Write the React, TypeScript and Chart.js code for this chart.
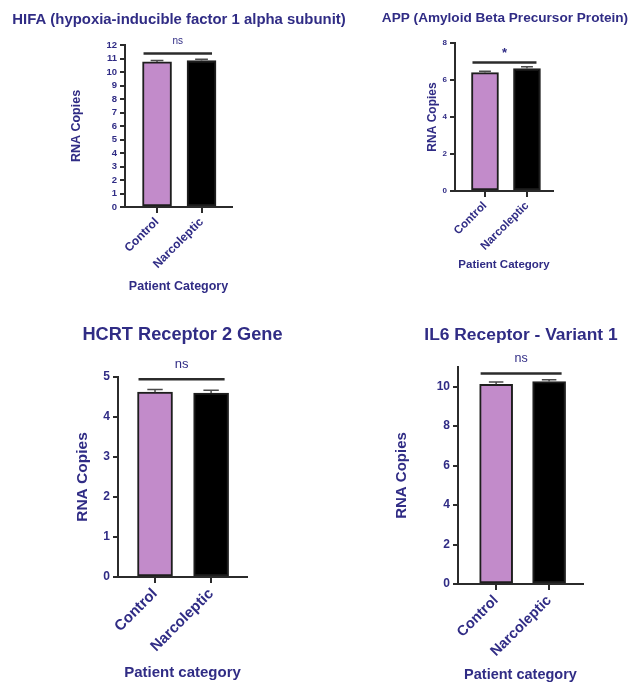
import React, { useEffect, useRef } from 'react';
import { Chart, registerables } from 'chart.js';

Chart.register(...registerables);

// ---------- data ----------
const categories = ['Control', 'Narcoleptic'];
const barColors = ['#c28bca', '#000000'];

const hifaValues = [10.75, 10.85];
const hifaErrors = [0.1, 0.1];

const appValues = [6.4, 6.62];
const appErrors = [0.07, 0.1];

const hcrtValues = [4.62, 4.6];
const hcrtErrors = [0.07, 0.07];

const il6Values = [10.12, 10.26];
const il6Errors = [0.12, 0.1];

const TEXT = '#302c85';
const AXIS = '#2b2b2b';
const FONT = '"Liberation Sans", Arial, Helvetica, sans-serif';

type Panel = {
  key: string;
  title: string;
  yTitle: string;
  xTitle: string;
  values: number[];
  errors: number[];
  sig: string;
  sigBold: boolean;
  canvas: { left: number; top: number; width: number; height: number };
  area: { left: number; right: number; top: number; bottom: number };
  yMax: number;
  yStep: number;
  xMin: number;
  xMax: number;
  barWidth: number;
  titlePos: { x: number; y: number };
  yTitleX: number;
  xTitleY: number;
  sigOffset: number;
  sigTextGap: number;
  fonts: { title: number; yTick: number; xTick: number; yTitle: number; xTitle: number; sig: number };
};

const panels: Panel[] = [
  {
    key: 'hifa',
    title: 'HIFA (hypoxia-inducible factor 1 alpha subunit)',
    yTitle: 'RNA Copies',
    xTitle: 'Patient Category',
    values: hifaValues,
    errors: hifaErrors,
    sig: 'ns',
    sigBold: false,
    canvas: { left: 0, top: 0, width: 380, height: 300 },
    area: { left: 125, right: 232, top: 45, bottom: 207 },
    yMax: 12,
    yStep: 1,
    xMin: -0.72,
    xMax: 1.685,
    barWidth: 29,
    titlePos: { x: 179, y: 20 },
    yTitleX: 77,
    xTitleY: 287,
    sigOffset: 7,
    sigTextGap: 12,
    fonts: { title: 14.9, yTick: 9.5, xTick: 12, yTitle: 12.5, xTitle: 12.5, sig: 10 },
  },
  {
    key: 'app',
    title: 'APP (Amyloid Beta Precursor Protein)',
    yTitle: 'RNA Copies',
    xTitle: 'Patient Category',
    values: appValues,
    errors: appErrors,
    sig: '*',
    sigBold: true,
    canvas: { left: 380, top: 0, width: 249, height: 300 },
    area: { left: 455, right: 553, top: 43, bottom: 191 },
    yMax: 8,
    yStep: 2,
    xMin: -0.714,
    xMax: 1.62,
    barWidth: 27,
    titlePos: { x: 505, y: 18 },
    yTitleX: 433,
    xTitleY: 265,
    sigOffset: 6,
    sigTextGap: 9,
    fonts: { title: 13.6, yTick: 8, xTick: 11.5, yTitle: 12, xTitle: 11.5, sig: 13 },
  },
  {
    key: 'hcrt',
    title: 'HCRT Receptor 2 Gene',
    yTitle: 'RNA Copies',
    xTitle: 'Patient category',
    values: hcrtValues,
    errors: hcrtErrors,
    sig: 'ns',
    sigBold: false,
    canvas: { left: 0, top: 300, width: 370, height: 384 },
    area: { left: 118, right: 247, top: 377, bottom: 577 },
    yMax: 5,
    yStep: 1,
    xMin: -0.66,
    xMax: 1.64,
    barWidth: 35,
    titlePos: { x: 182.5, y: 335 },
    yTitleX: 83,
    xTitleY: 673,
    sigOffset: 13,
    sigTextGap: 15,
    fonts: { title: 18.2, yTick: 12, xTick: 15, yTitle: 15.5, xTitle: 15, sig: 13 },
  },
  {
    key: 'il6',
    title: 'IL6 Receptor - Variant 1',
    yTitle: 'RNA Copies',
    xTitle: 'Patient category',
    values: il6Values,
    errors: il6Errors,
    sig: 'ns',
    sigBold: false,
    canvas: { left: 370, top: 300, width: 259, height: 384 },
    area: { left: 458, right: 583, top: 367, bottom: 584 },
    yMax: 11,
    yStep: 2,
    xMin: -0.72,
    xMax: 1.64,
    barWidth: 33,
    titlePos: { x: 521, y: 335 },
    yTitleX: 402,
    xTitleY: 675,
    sigOffset: 8,
    sigTextGap: 15,
    fonts: { title: 17.4, yTick: 12, xTick: 14.5, yTitle: 15, xTitle: 14.5, sig: 12.5 },
  },
];

function makeDeco(p: Panel) {
  return {
    id: 'deco',
    afterDatasetsDraw(chart: any) {
      const ctx = chart.ctx as CanvasRenderingContext2D;
      const meta = chart.getDatasetMeta(0);
      const y = chart.scales.y;
      ctx.save();
      // error bars (upper half)
      ctx.strokeStyle = '#4a4a4a';
      ctx.lineWidth = 1.5;
      meta.data.forEach((bar: any, i: number) => {
        const base = y.getPixelForValue(p.values[i]);
        const top = y.getPixelForValue(p.values[i] + p.errors[i]);
        const half = bar.width * 0.22;
        ctx.beginPath();
        ctx.moveTo(bar.x, base);
        ctx.lineTo(bar.x, top);
        ctx.moveTo(bar.x - half, top);
        ctx.lineTo(bar.x + half, top);
        ctx.stroke();
      });
      // significance bracket
      const barTop = Math.min(...meta.data.map((b: any) => b.y));
      const lineY = barTop - p.sigOffset;
      const b0 = meta.data[0];
      const b1 = meta.data[meta.data.length - 1];
      const x0 = b0.x - b0.width / 2 + 1;
      const x1 = b1.x + b1.width / 2 - 4;
      ctx.strokeStyle = AXIS;
      ctx.lineWidth = 2.5;
      ctx.beginPath();
      ctx.moveTo(x0, lineY);
      ctx.lineTo(x1, lineY);
      ctx.stroke();
      ctx.fillStyle = TEXT;
      ctx.textAlign = 'center';
      ctx.textBaseline = 'middle';
      ctx.font = `${p.sigBold ? 'bold ' : ''}${p.fonts.sig}px ${FONT}`;
      ctx.fillText(p.sig, (x0 + x1) / 2, lineY - p.sigTextGap);
      // chart title
      ctx.font = `bold ${p.fonts.title}px ${FONT}`;
      ctx.fillText(p.title, p.titlePos.x - p.canvas.left, p.titlePos.y - p.canvas.top);
      ctx.restore();
    },
  };
}

function BarPanel({ p }: { p: Panel }) {
  const ref = useRef<HTMLCanvasElement | null>(null);
  useEffect(() => {
    if (!ref.current) return;
    const c = p.canvas;
    const L = p.area.left - c.left;
    const R = p.area.right - c.left;
    const T = p.area.top - c.top;
    const B = p.area.bottom - c.top;
    const yLh = p.fonts.yTitle * 1.2;
    const padLeft = p.yTitleX - c.left - yLh / 2;
    const yWidth = L - padLeft;
    const xLh = p.fonts.xTitle * 1.2;
    const xHeight = p.xTitleY - c.top + xLh / 2 - B;
    const padBottom = Math.max(0, c.height - B - xHeight);

    const chart = new Chart(ref.current, {
      type: 'bar',
      data: {
        datasets: [
          {
            data: categories.map((_, i) => ({ x: i, y: p.values[i] })),
            backgroundColor: barColors,
            borderColor: '#1e1e1e',
            borderWidth: 2,
            borderSkipped: false,
            barThickness: p.barWidth,
          } as any,
        ],
      },
      options: {
        animation: false,
        responsive: false,
        maintainAspectRatio: false,
        devicePixelRatio: 1,
        layout: { padding: { left: padLeft, right: c.width - R, top: T, bottom: padBottom } },
        plugins: { legend: { display: false }, tooltip: { enabled: false }, title: { display: false } },
        scales: {
          x: {
            type: 'linear',
            min: p.xMin,
            max: p.xMax,
            offset: false,
            grid: {
              offset: false,
              drawOnChartArea: false,
              drawTicks: true,
              tickLength: 6,
              color: AXIS,
              lineWidth: 2,
            },
            border: { color: AXIS, width: 2 },
            ticks: {
              stepSize: 1,
              includeBounds: false,
              autoSkip: false,
              minRotation: 45,
              maxRotation: 45,
              padding: 2,
              color: TEXT,
              font: { family: FONT, size: p.fonts.xTick, weight: 'bold' },
              callback: (v: any) => (categories[v as number] ?? ''),
            },
            title: {
              display: true,
              text: p.xTitle,
              color: TEXT,
              padding: 0,
              font: { family: FONT, size: p.fonts.xTitle, weight: 'bold' },
            },
            afterFit: (s: any) => {
              s.height = xHeight;
            },
          } as any,
          y: {
            min: 0,
            max: p.yMax,
            grid: {
              drawOnChartArea: false,
              drawTicks: true,
              tickLength: 5,
              color: AXIS,
              lineWidth: 2,
            },
            border: { color: AXIS, width: 2 },
            ticks: {
              stepSize: p.yStep,
              includeBounds: false,
              autoSkip: false,
              padding: 3,
              color: TEXT,
              font: { family: FONT, size: p.fonts.yTick, weight: 'bold' },
            },
            title: {
              display: true,
              text: p.yTitle,
              color: TEXT,
              padding: 0,
              font: { family: FONT, size: p.fonts.yTitle, weight: 'bold' },
            },
            afterFit: (s: any) => {
              s.width = yWidth;
            },
          } as any,
        },
      },
      plugins: [makeDeco(p)],
    });
    return () => chart.destroy();
  }, [p]);

  return (
    <div
      style={{
        position: 'absolute',
        left: p.canvas.left,
        top: p.canvas.top,
        width: p.canvas.width,
        height: p.canvas.height,
      }}
    >
      <canvas
        ref={ref}
        width={p.canvas.width}
        height={p.canvas.height}
        style={{ width: p.canvas.width, height: p.canvas.height, display: 'block' }}
      />
    </div>
  );
}

export default function App() {
  return (
    <div style={{ position: 'absolute', left: 0, top: 0, width: 629, height: 684, background: '#ffffff', overflow: 'hidden' }}>
      {panels.map((p) => (
        <BarPanel key={p.key} p={p} />
      ))}
    </div>
  );
}
